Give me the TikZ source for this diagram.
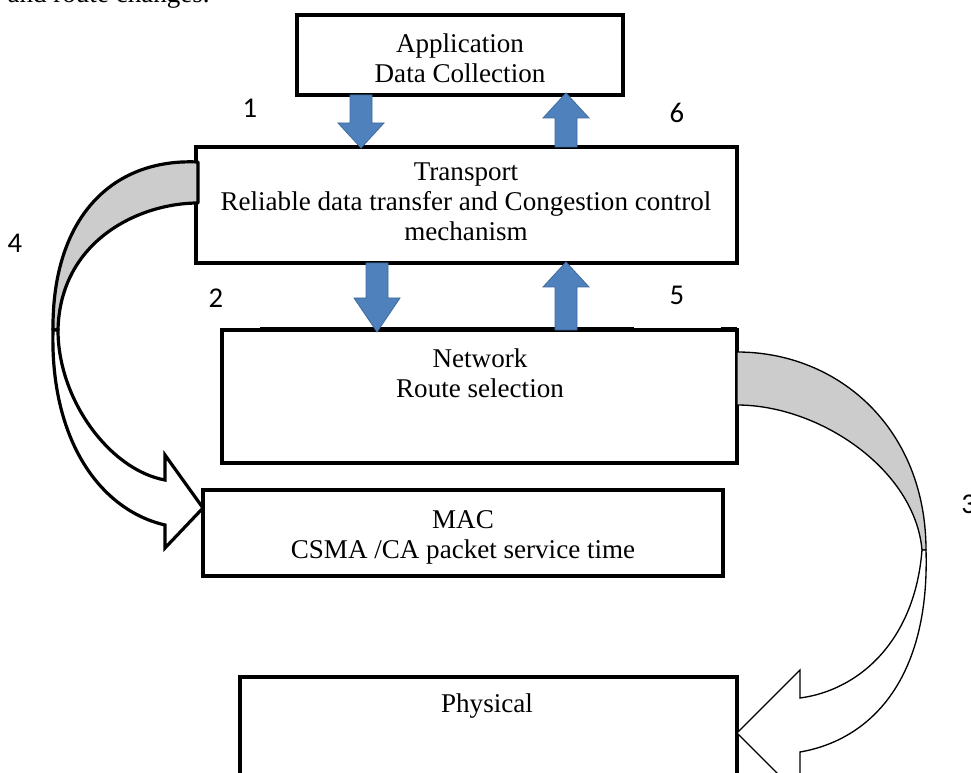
\documentclass[tikz,border=0pt]{standalone}
\usepackage{fontspec}
\setmainfont{Liberation Serif}
\newfontfamily\numfont{Carlito}
\definecolor{bandgray}{HTML}{CCCCCC}
\definecolor{blockblue}{HTML}{4F81BD}
\definecolor{blockedge}{HTML}{3F6A9C}
\begin{document}
\begin{tikzpicture}[x=0.75pt,y=-0.75pt,
  box/.style={draw=black, line width=2.3pt, fill=white, rectangle, inner sep=0pt, outer sep=0pt},
  lbl/.style={font=\fontsize{20.3}{22.5}\selectfont, anchor=base, inner sep=0pt},
  num/.style={font=\numfont\fontsize{21.5}{24}\selectfont, anchor=base, inner sep=0pt},
  blockarrow/.style={fill=blockblue, draw=blockedge, line width=0.6pt, line join=miter},
  bandback/.style={fill=bandgray, draw=black, line join=round},
  bandfront/.style={fill=white, draw=black, line join=miter}]
\useasboundingbox (0,0) rectangle (971,773);
\clip (0,0) rectangle (971,773);
\fill[white] (0,0) rectangle (971,773);

% boxes
\node[box, minimum width=244.5pt, minimum height=60pt] (app) at (460,55) {};
\node[box, minimum width=405.75pt, minimum height=87pt] (trans) at (466.5,205) {};
\node[box, minimum width=386.25pt, minimum height=99.75pt] (net) at (479.5,396.5) {};
\node[box, line width=2.8pt, minimum width=390pt, minimum height=64.5pt] (mac) at (463,533) {};
\node[box, line width=2.8pt, minimum width=372.75pt, minimum height=92.25pt] (phys) at (488.5,738.5) {};
\draw[line width=2pt] (260,328.5) -- (634,328.5) (721,328.5) -- (737,328.5);

% curved arrow 4 (Transport -> MAC)
\draw[bandback, line width=2.4pt] (198,162) .. controls (110,158) and (52,220) .. (53,330)
  -- (58,330) .. controls (60,240) and (140,203) .. (198,203) -- cycle;
\draw[bandfront, line width=2.4pt] (53,330) .. controls (50,440) and (100,510) .. (165,525)
  -- (165,548) -- (203,508) -- (165,455) -- (165,480)
  .. controls (110,470) and (58,400) .. (58,330) -- cycle;

% curved arrow 3 (Network -> Physical)
\draw[bandback, line width=1pt] (737,352) .. controls (840,352) and (926,430) .. (926,550)
  -- (922,550) .. controls (915,470) and (820,405) .. (737,405) -- cycle;
\draw[bandfront, line width=1pt] (926,550) .. controls (930,680) and (870,740) .. (800,752)
  -- (800,796) -- (737,733) -- (800,670) -- (800,698)
  .. controls (860,690) and (915,640) .. (922,550) -- cycle;

% block arrows
\draw[blockarrow] (350,95) -- (372,95) -- (372,123) -- (384,123) -- (361,148) -- (338,123) -- (350,123) -- cycle;
\draw[blockarrow] (555,147) -- (577,147) -- (577,118) -- (589,118) -- (566,93) -- (543,118) -- (555,118) -- cycle;
\draw[blockarrow] (366,263) -- (388,263) -- (388,298) -- (400,298) -- (377,332) -- (354,298) -- (366,298) -- cycle;
\draw[blockarrow] (555,330) -- (577,330) -- (577,287) -- (589,287) -- (566,262) -- (543,287) -- (555,287) -- cycle;

% texts
\node[lbl] (appA) at (460,53) {Application};
\node[lbl] (appB) at (460,83) {Data Collection};
\node[lbl] (trA) at (466,181) {Transport};
\node[lbl] (trB) at (466,211) {Reliable data transfer and Congestion control};
\node[lbl] (trC) at (466,241) {mechanism};
\node[lbl] (netA) at (480,368) {Network};
\node[lbl] (netB) at (480,398) {Route selection};
\node[lbl] (macA) at (463,528) {MAC};
\node[lbl] (macB) at (463,558) {CSMA /CA packet service time};
\node[lbl] (phA) at (487,712) {Physical};
\node[lbl, anchor=base east] (cut) at (210,3) {and route changes.};

% numbers
\node[num] (n1) at (250,118) {1};
\node[num] (n6) at (677,123) {6};
\node[num] (n2) at (216,308) {2};
\node[num] (n5) at (677,305) {5};
\node[num] (n4) at (15,253) {4};
\node[num, anchor=base west] (n3) at (961,513) {3};
\end{tikzpicture}
\end{document}
